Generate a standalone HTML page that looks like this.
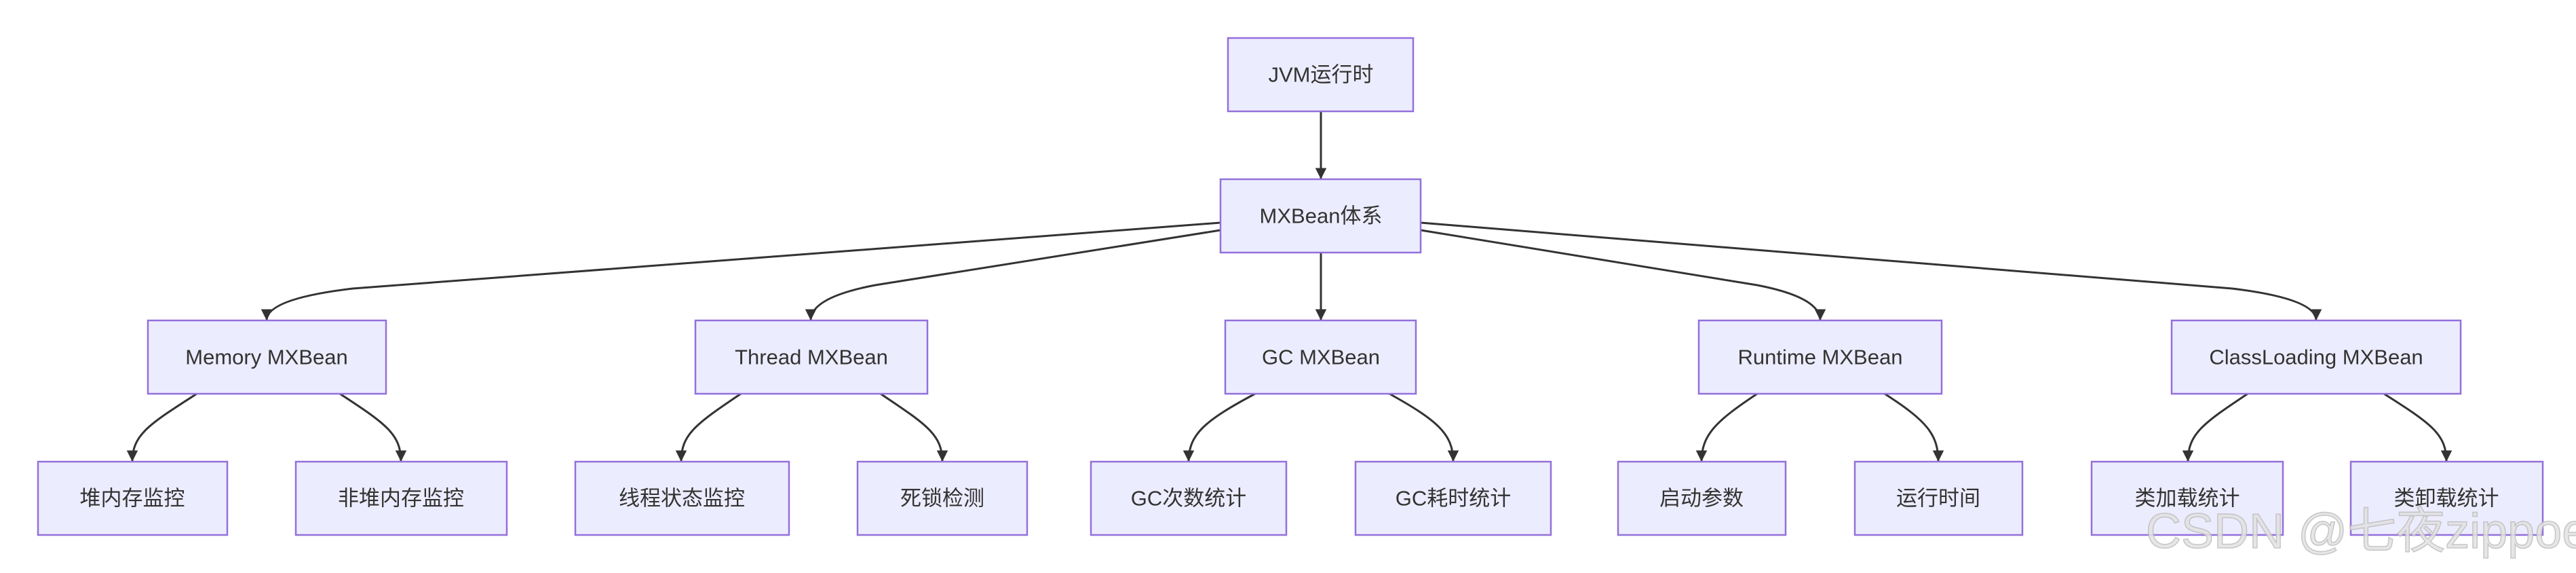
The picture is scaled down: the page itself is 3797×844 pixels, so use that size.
<!DOCTYPE html>
<html><head><meta charset="utf-8"><style>
html,body{margin:0;padding:0;background:#fff;}
svg{display:block;}
text{font-family:"Liberation Sans","Noto Sans CJK SC",sans-serif;font-size:31px;fill:#333;text-anchor:middle;dominant-baseline:central;}
.b{fill:#ECECFF;stroke:#9370DB;stroke-width:2.5;}
.l{fill:none;stroke:#333;stroke-width:3;}
.wm{font-size:72px;fill:#e2e2e2;stroke:#bdbdbd;stroke-width:1.5;text-anchor:start;opacity:0.85;}
</style></head><body>
<svg width="3797" height="844" viewBox="0 0 3797 844" xmlns="http://www.w3.org/2000/svg">
<defs><marker id="a" viewBox="0 0 10 10" refX="10" refY="5" markerWidth="5.5" markerHeight="5.5" markerUnits="strokeWidth" orient="auto"><path d="M0,0 L10,5 L0,10 z" fill="#333"/></marker></defs>
<!-- edges -->
<path class="l" marker-end="url(#a)" d="M1947 164 L1947 264"/>
<path class="l" marker-end="url(#a)" d="M1947 372 L1947 472"/>
<path class="l" marker-end="url(#a)" d="M1799 328 L520 425 Q393 440 393 472"/>
<path class="l" marker-end="url(#a)" d="M1799 339 L1290 420 Q1195 438 1195 472"/>
<path class="l" marker-end="url(#a)" d="M2094 339 L2590 420 Q2683 438 2683 472"/>
<path class="l" marker-end="url(#a)" d="M2094 328 L3290 425 Q3414 440 3414 472"/>
<path class="l" marker-end="url(#a)" d="M290 580 C220 625,195 640,195 680"/>
<path class="l" marker-end="url(#a)" d="M501 580 C570 625,591 640,591 680"/>
<path class="l" marker-end="url(#a)" d="M1092 580 C1025 625,1004 640,1004 680"/>
<path class="l" marker-end="url(#a)" d="M1298 580 C1365 625,1389 640,1389 680"/>
<path class="l" marker-end="url(#a)" d="M1850 580 C1775 620,1752 640,1752 680"/>
<path class="l" marker-end="url(#a)" d="M2048 580 C2120 620,2142 640,2142 680"/>
<path class="l" marker-end="url(#a)" d="M2590 580 C2530 620,2508 640,2508 680"/>
<path class="l" marker-end="url(#a)" d="M2778 580 C2840 620,2857 640,2857 680"/>
<path class="l" marker-end="url(#a)" d="M3313 580 C3245 625,3225 640,3225 680"/>
<path class="l" marker-end="url(#a)" d="M3514 580 C3585 625,3606 640,3606 680"/>
<!-- nodes -->
<rect class="b" x="1810" y="56" width="273" height="108"/><text x="1947" y="110">JVM运行时</text>
<rect class="b" x="1799" y="264" width="295" height="108"/><text x="1947" y="318">MXBean体系</text>
<rect class="b" x="218" y="472" width="351" height="108"/><text x="393" y="526">Memory MXBean</text>
<rect class="b" x="1025" y="472" width="342" height="108"/><text x="1196" y="526">Thread MXBean</text>
<rect class="b" x="1806" y="472" width="281" height="108"/><text x="1947" y="526">GC MXBean</text>
<rect class="b" x="2504" y="472" width="358" height="108"/><text x="2683" y="526">Runtime MXBean</text>
<rect class="b" x="3201" y="472" width="426" height="108"/><text x="3414" y="526">ClassLoading MXBean</text>
<rect class="b" x="56" y="680" width="279" height="108"/><text x="195" y="734">堆内存监控</text>
<rect class="b" x="436" y="680" width="311" height="108"/><text x="591" y="734">非堆内存监控</text>
<rect class="b" x="848" y="680" width="315" height="108"/><text x="1005" y="734">线程状态监控</text>
<rect class="b" x="1264" y="680" width="250" height="108"/><text x="1389" y="734">死锁检测</text>
<rect class="b" x="1608" y="680" width="288" height="108"/><text x="1752" y="734">GC次数统计</text>
<rect class="b" x="1998" y="680" width="288" height="108"/><text x="2142" y="734">GC耗时统计</text>
<rect class="b" x="2385" y="680" width="247" height="108"/><text x="2508" y="734">启动参数</text>
<rect class="b" x="2734" y="680" width="247" height="108"/><text x="2857" y="734">运行时间</text>
<rect class="b" x="3083" y="680" width="282" height="108"/><text x="3224" y="734">类加载统计</text>
<rect class="b" x="3465" y="680" width="283" height="108"/><text x="3606" y="734">类卸载统计</text>
<text class="wm" x="3163" y="783">CSDN @七夜zippoe</text>
</svg>
</body></html>
